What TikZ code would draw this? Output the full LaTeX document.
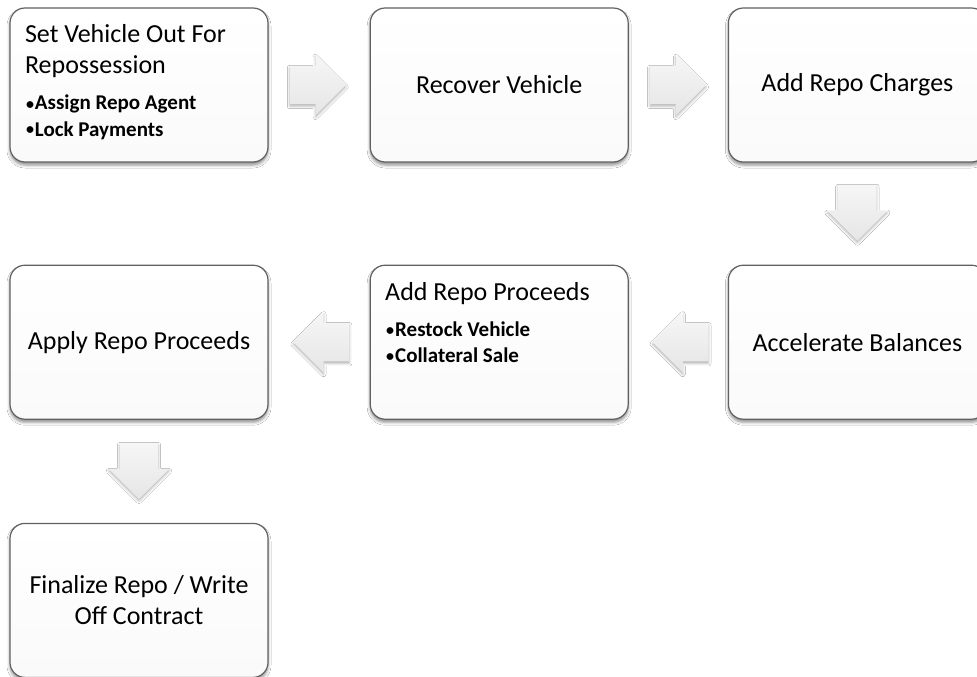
\documentclass[tikz,border=0pt]{standalone}
\usepackage{fontspec}
\setmainfont{Carlito}
\usepackage{tikz}
\usetikzlibrary{positioning,calc,shapes.arrows,shadows.blur}

\newcommand{\titlefont}{\fontsize{26pt}{31pt}\selectfont}
\newcommand{\bulletfont}{\fontsize{21pt}{26pt}\selectfont\bfseries}
\newcommand{\bul}[1]{\hspace*{1pt}\raisebox{1pt}{\fontsize{16pt}{16pt}\selectfont•}\hspace{1pt}#1}
\newcommand{\topbox}[2]{\parbox[c][154pt][t]{228pt}{\raggedright\titlefont\rule{0pt}{35pt}#1\par\vspace{10pt}\bulletfont#2}}

\begin{document}
\begin{tikzpicture}[x=1pt,y=1pt,
    stepbox/.style={draw=black!62, line width=1.2pt, rounded corners=15pt,
        top color=white, bottom color=gray!4, minimum width=258pt, minimum height=154pt,
        inner sep=0pt, font=\titlefont, align=center,
        blur shadow={shadow xshift=0pt, shadow yshift=-3pt, shadow blur radius=3pt, shadow opacity=45}},
    flowarrow/.style={single arrow, anchor=tail, top color=gray!7, bottom color=gray!20, draw=none,
        minimum height=56pt, single arrow head extend=11pt,
        blur shadow={shadow xshift=0pt, shadow yshift=-2pt, shadow blur radius=2.5pt, shadow opacity=30}},
    harrow/.style={flowarrow, inner xsep=4pt, inner ysep=19pt},
    varrow/.style={flowarrow, inner xsep=19pt, inner ysep=4pt, shape border rotate=270}]
  \useasboundingbox (0,0) rectangle (977,-677);
  \clip (0,0) rectangle (977,-677);
  \fill[white] (0,0) rectangle (977,-677);
  \node[stepbox] (setout) at (139,-85) {\topbox{Set Vehicle Out For Repossession}{\bul{Assign Repo Agent}\\\bul{Lock Payments}}};
  \node[stepbox, right=101pt of setout] (recover) {Recover Vehicle};
  \node[stepbox, right=99pt of recover] (charges) {Add Repo Charges};
  \node[stepbox, below=102pt of charges] (accel) {Accelerate Balances};
  \node[stepbox, left=99pt of accel] (addproc) {\topbox{Add Repo Proceeds}{\bul{Restock Vehicle}\\\bul{Collateral Sale}}};
  \node[stepbox, left=101pt of addproc] (applyproc) {Apply Repo Proceeds};
  \node[stepbox, below=103pt of applyproc] (finalize) {Finalize Repo / Write\\Off Contract};
  \node[harrow] (a1) at ($(setout.east)+(21,0)$) {};
  \node[harrow] (a2) at ($(recover.east)+(21,0)$) {};
  \node[varrow] (a3) at ($(charges.south)+(0,-22)$) {};
  \node[harrow, shape border rotate=180] (a4) at ($(accel.west)+(-19,0)$) {};
  \node[harrow, shape border rotate=180] (a5) at ($(addproc.west)+(-20,0)$) {};
  \node[varrow] (a6) at ($(applyproc.south)+(0,-23)$) {};
\end{tikzpicture}
\end{document}
